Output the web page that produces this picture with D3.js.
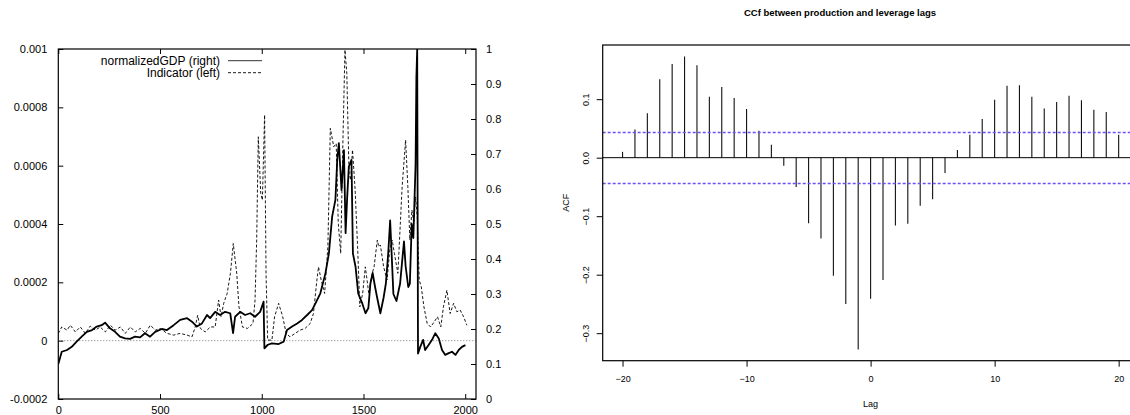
<!DOCTYPE html>
<html>
<head>
<meta charset="utf-8">
<script src="https://cdn.jsdelivr.net/npm/d3@7"></script>
<style>
  body { margin: 0; background: #fff; }
  text { font-family: "Liberation Sans", Arial, sans-serif; }
</style>
</head>
<body>
<div id="chart"></div>
<script>
var width = 1130;
var height = 415;

// left panel: normalizedGDP (right axis) vs Indicator (left axis)
var gdpIdx = [0, 17, 43, 66, 90, 115, 140, 166, 189, 213, 230, 254, 279, 303, 328, 353, 377, 402, 426, 451,
  476, 509, 534, 567, 599, 633, 657, 681, 706, 731, 746, 771, 795, 820, 845, 859, 869, 894, 918, 943,
  967, 992, 1009, 1013, 1030, 1050, 1083, 1108, 1124, 1149, 1174, 1198, 1223, 1247, 1264, 1288, 1313, 1330, 1346, 1362,
  1371, 1379, 1392, 1404, 1412, 1420, 1428, 1441, 1448, 1461, 1474, 1494, 1510, 1524, 1534, 1545, 1557, 1567, 1583, 1599,
  1610, 1622, 1631, 1638, 1647, 1662, 1680, 1699, 1707, 1720, 1728, 1737, 1745, 1756, 1760, 1764, 1768, 1779, 1793, 1803,
  1820, 1837, 1853, 1870, 1886, 1902, 1919, 1935, 1952, 1968, 1984, 2001];
var gdpVal = [0.10, 0.135, 0.14, 0.149, 0.164, 0.178, 0.192, 0.197, 0.207, 0.211, 0.218, 0.202, 0.192, 0.178, 0.173, 0.172, 0.178, 0.176, 0.188, 0.178,
  0.192, 0.200, 0.197, 0.211, 0.226, 0.231, 0.221, 0.207, 0.216, 0.240, 0.231, 0.249, 0.240, 0.249, 0.245, 0.188, 0.235, 0.249, 0.240, 0.245,
  0.235, 0.249, 0.278, 0.145, 0.155, 0.159, 0.157, 0.164, 0.197, 0.207, 0.216, 0.226, 0.240, 0.254, 0.273, 0.302, 0.359, 0.416, 0.521, 0.569,
  0.683, 0.731, 0.597, 0.711, 0.474, 0.578, 0.664, 0.683, 0.416, 0.378, 0.302, 0.273, 0.245, 0.260, 0.330, 0.360, 0.320, 0.290, 0.245, 0.290,
  0.330, 0.420, 0.510, 0.420, 0.300, 0.280, 0.330, 0.450, 0.380, 0.320, 0.330, 0.500, 0.460, 0.670, 0.920, 1.0, 0.130, 0.149, 0.169, 0.140,
  0.154, 0.169, 0.188, 0.173, 0.140, 0.126, 0.131, 0.135, 0.126, 0.140, 0.149, 0.154];

// indicator values in units of 1e-4
var indIdx = [0, 17, 43, 59, 84, 108, 133, 157, 182, 206, 231, 256, 280, 305, 329, 354, 378, 403, 428, 452,
  477, 501, 534, 567, 599, 633, 657, 673, 685, 698, 722, 747, 771, 788, 800, 813, 830, 846, 860, 877,
  888, 905, 930, 957, 967, 975, 983, 995, 1003, 1014, 1021, 1029, 1050, 1063, 1083, 1103, 1120, 1139, 1164, 1188,
  1213, 1238, 1254, 1271, 1279, 1292, 1309, 1325, 1337, 1354, 1366, 1376, 1388, 1399, 1409, 1418, 1429, 1437, 1446, 1459,
  1471, 1482, 1496, 1509, 1526, 1543, 1552, 1568, 1575, 1583, 1599, 1616, 1629, 1641, 1652, 1669, 1690, 1707, 1718, 1728,
  1738, 1747, 1756, 1764, 1774, 1784, 1797, 1813, 1830, 1847, 1864, 1880, 1893, 1910, 1926, 1943, 1959, 1975, 1992, 2008];
var indVal = [0.25, 0.47, 0.36, 0.53, 0.30, 0.47, 0.25, 0.50, 0.36, 0.47, 0.30, 0.53, 0.36, 0.47, 0.25, 0.47, 0.30, 0.42, 0.25, 0.53,
  0.36, 0.42, 0.25, 0.19, 0.25, 0.19, 0.13, 0.47, 0.87, 0.42, 0.30, 0.47, 0.47, 1.39, 0.82, 1.28, 1.62, 2.31, 3.33, 2.31,
  1.16, 0.47, 0.42, 0.59, 1.39, 3.45, 6.99, 5.05, 4.82, 7.74, 2.31, 0.02, 0.02, 0.82, 1.28, 0.82, 0.25, 0.13, 0.25, 0.36,
  0.42, 0.59, 0.93, 2.08, 2.53, 2.08, 1.62, 3.22, 7.28, 6.65, 6.76, 4.02, 2.99, 6.88, 9.97, 9.17, 5.74, 5.51, 6.54, 5.16,
  3.22, 1.16, 1.62, 2.53, 1.62, 2.31, 2.53, 3.45, 3.22, 3.28, 2.53, 2.08, 3.10, 3.45, 2.99, 2.31, 5.28, 6.88, 5.28, 3.45,
  4.48, 4.02, 4.93, 4.25, 2.08, 1.85, 1.16, 0.59, 0.47, 0.64, 0.82, 0.47, 1.16, 1.73, 0.93, 1.28, 0.99, 1.05, 0.82, 0.53];

var leftTicks = [-0.0002, 0, 0.0002, 0.0004, 0.0006, 0.0008, 0.001];
var rightTicks = [0, 0.1, 0.2, 0.3, 0.4, 0.5, 0.6, 0.7, 0.8, 0.9, 1];
var xTicks = [0, 500, 1000, 1500, 2000];

// right panel: cross correlation
var lags = d3.range(-20, 21);
var ccf = [0.010, 0.048, 0.076, 0.134, 0.160, 0.173, 0.158, 0.104, 0.121, 0.102,
  0.083, 0.046, 0.022, -0.014, -0.050, -0.112, -0.138, -0.202, -0.250, -0.328,
  -0.241, -0.209, -0.116, -0.113, -0.082, -0.071, -0.026, 0.013, 0.039, 0.066,
  0.099, 0.123, 0.124, 0.104, 0.084, 0.095, 0.106, 0.098, 0.082, 0.078, 0.039];
var ciLevel = 0.0438;
var ccfYTicks = [-0.3, -0.2, -0.1, 0.0, 0.1];
var ccfXTicks = [-20, -10, 0, 10, 20];

var svg = d3.select("#chart").append("svg")
  .attr("width", width)
  .attr("height", height);

// ---------- left panel ----------
var L = { left: 58.3, right: 476, top: 49, bottom: 399 };
var xScale = d3.scaleLinear().domain([0, 2053]).range([L.left, L.right]);
var yLeft = d3.scaleLinear().domain([-0.0002, 0.001]).range([L.bottom, L.top]);
var yRight = d3.scaleLinear().domain([0, 1]).range([L.bottom, L.top]);

var left = svg.append("g");
left.append("clipPath").attr("id", "clipL")
  .append("rect")
  .attr("x", L.left).attr("y", L.top)
  .attr("width", L.right - L.left).attr("height", L.bottom - L.top);

// zero line
left.append("line")
  .attr("x1", L.left).attr("x2", L.right)
  .attr("y1", yLeft(0)).attr("y2", yLeft(0))
  .attr("stroke", "#555").attr("stroke-width", 0.8)
  .attr("stroke-dasharray", "1,2");

var gdpLine = d3.line()
  .x((d, i) => xScale(gdpIdx[i]))
  .y(d => yRight(d));
var indLine = d3.line()
  .x((d, i) => xScale(indIdx[i]))
  .y(d => yLeft(d * 1e-4));

left.append("path")
  .datum(indVal)
  .attr("clip-path", "url(#clipL)")
  .attr("d", indLine)
  .attr("fill", "none")
  .attr("stroke", "#000")
  .attr("stroke-width", 0.9)
  .attr("stroke-dasharray", "3,2");

left.append("path")
  .datum(gdpVal)
  .attr("clip-path", "url(#clipL)")
  .attr("d", gdpLine)
  .attr("fill", "none")
  .attr("stroke", "#000")
  .attr("stroke-width", 1.8)
  .attr("stroke-linejoin", "round");

// axes, ticks inward like gnuplot
var fmtL = d => String(+d.toFixed(4));
var fmtR = d => String(+d.toFixed(1));

var axL = left.append("g")
  .attr("transform", "translate(" + L.left + ",0)")
  .call(d3.axisLeft(yLeft).tickValues(leftTicks).tickFormat(fmtL).tickSize(-5).tickSizeOuter(0).tickPadding(11));
var axR = left.append("g")
  .attr("transform", "translate(" + L.right + ",0)")
  .call(d3.axisRight(yRight).tickValues(rightTicks).tickFormat(fmtR).tickSize(-5).tickSizeOuter(0).tickPadding(10));
var axB = left.append("g")
  .attr("transform", "translate(0," + L.bottom + ")")
  .call(d3.axisBottom(xScale).tickValues(xTicks).tickFormat(d3.format("d")).tickSize(-5).tickSizeOuter(0).tickPadding(7));
var axT = left.append("g")
  .attr("transform", "translate(0," + L.top + ")")
  .call(d3.axisTop(xScale).tickValues(xTicks).tickFormat("").tickSize(-5).tickSizeOuter(0));

[axL, axR, axB, axT].forEach(function(a) {
  a.select(".domain").remove();
  a.selectAll("line").attr("stroke", "#000");
  a.selectAll("text").style("font-size", "11px").attr("fill", "#000");
});

left.append("rect")
  .attr("x", L.left).attr("y", L.top)
  .attr("width", L.right - L.left).attr("height", L.bottom - L.top)
  .attr("fill", "none").attr("stroke", "#000").attr("stroke-width", 1.2);

// legend
var legend = left.append("g").style("font-size", "12px");
legend.append("text").attr("x", 220).attr("y", 65).attr("text-anchor", "end").text("normalizedGDP (right)");
legend.append("text").attr("x", 220).attr("y", 77).attr("text-anchor", "end").text("Indicator (left)");
legend.append("line").attr("x1", 228).attr("x2", 262).attr("y1", 60.7).attr("y2", 60.7)
  .attr("stroke", "#333").attr("stroke-width", 1);
legend.append("line").attr("x1", 228).attr("x2", 262).attr("y1", 72.7).attr("y2", 72.7)
  .attr("stroke", "#000").attr("stroke-width", 0.9).attr("stroke-dasharray", "3,2");

// ---------- right panel ----------
var R = { left: 602.7, right: 1138.5, top: 45, bottom: 360.7 };
var lagScale = d3.scaleLinear().domain([-21.6, 21.6]).range([R.left, R.right]);
var acfScale = d3.scaleLinear().domain([-0.347, 0.1926]).range([R.bottom, R.top]);

var right = svg.append("g");

right.append("text")
  .attr("x", 840).attr("y", 16)
  .attr("text-anchor", "middle")
  .style("font-size", "9.5px").style("font-weight", "bold")
  .text("CCf between production and leverage lags");

// bars
right.selectAll(".bar")
  .data(ccf)
  .enter().append("line")
  .attr("class", "bar")
  .attr("x1", (d, i) => lagScale(lags[i]))
  .attr("x2", (d, i) => lagScale(lags[i]))
  .attr("y1", acfScale(0))
  .attr("y2", d => acfScale(d))
  .attr("stroke", "#111")
  .attr("stroke-width", 1.1);

// zero line
right.append("line")
  .attr("x1", R.left).attr("x2", R.right)
  .attr("y1", acfScale(0)).attr("y2", acfScale(0))
  .attr("stroke", "#000").attr("stroke-width", 1);

// confidence band
[ciLevel, -ciLevel].forEach(function(c) {
  var yy = Math.round(acfScale(c)) + 0.5;
  right.append("line")
    .attr("x1", R.left).attr("x2", R.right)
    .attr("y1", yy).attr("y2", yy)
    .attr("stroke", "#7050f5").attr("stroke-width", 1.3)
    .attr("stroke-dasharray", "3,2");
});

var axX = right.append("g")
  .attr("transform", "translate(0," + R.bottom + ")")
  .call(d3.axisBottom(lagScale).tickValues(ccfXTicks)
    .tickFormat(d => d < 0 ? "\u2212" + Math.abs(d) : String(d))
    .tickSize(6).tickSizeOuter(0).tickPadding(9));
var axY = right.append("g")
  .attr("transform", "translate(" + R.left + ",0)")
  .call(d3.axisLeft(acfScale).tickValues(ccfYTicks)
    .tickFormat(d => d < 0 ? "\u2212" + Math.abs(d).toFixed(1) : d.toFixed(1))
    .tickSize(6).tickSizeOuter(0));

[axX, axY].forEach(function(a) {
  a.select(".domain").remove();
  a.selectAll("line").attr("stroke", "#000");
  a.selectAll("text").style("font-size", "9px").attr("fill", "#000");
});
axY.selectAll("text")
  .attr("transform", "rotate(-90)")
  .attr("x", 0).attr("y", -14).attr("dy", "0")
  .style("text-anchor", "middle");

right.append("rect")
  .attr("x", R.left).attr("y", R.top)
  .attr("width", R.right - R.left).attr("height", R.bottom - R.top)
  .attr("fill", "none").attr("stroke", "#000").attr("stroke-width", 1.2);

right.append("text")
  .attr("x", lagScale(0)).attr("y", 407)
  .attr("text-anchor", "middle").style("font-size", "9px")
  .text("Lag");
right.append("text")
  .attr("transform", "translate(569," + ((R.top + R.bottom) / 2) + ") rotate(-90)")
  .attr("text-anchor", "middle").style("font-size", "9px")
  .text("ACF");
</script>
</body>
</html>
